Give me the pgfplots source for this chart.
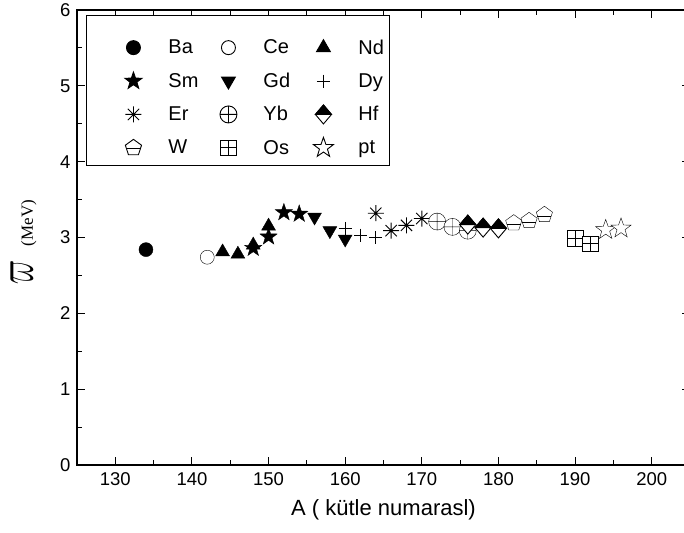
\documentclass[border=0pt]{standalone}
\usepackage{pgfplots}
\pgfplotsset{compat=1.18}
\usepackage{fontspec}
\setmainfont{Liberation Sans}
\newfontfamily\seriffont{Liberation Serif}
\usetikzlibrary{plotmarks}

% filled or open five-pointed star (fill colour from mark options)
\pgfdeclareplotmark{starfive}{%
  \pgfpathmoveto{\pgfpointpolar{90}{\pgfplotmarksize}}%
  \pgfpathlineto{\pgfpointpolar{126}{0.4\pgfplotmarksize}}%
  \pgfpathlineto{\pgfpointpolar{162}{\pgfplotmarksize}}%
  \pgfpathlineto{\pgfpointpolar{198}{0.4\pgfplotmarksize}}%
  \pgfpathlineto{\pgfpointpolar{234}{\pgfplotmarksize}}%
  \pgfpathlineto{\pgfpointpolar{270}{0.4\pgfplotmarksize}}%
  \pgfpathlineto{\pgfpointpolar{306}{\pgfplotmarksize}}%
  \pgfpathlineto{\pgfpointpolar{342}{0.4\pgfplotmarksize}}%
  \pgfpathlineto{\pgfpointpolar{18}{\pgfplotmarksize}}%
  \pgfpathlineto{\pgfpointpolar{54}{0.4\pgfplotmarksize}}%
  \pgfpathclose
  \pgfusepathqfillstroke
}
% pentagon with a bar across its lower part
\pgfdeclareplotmark{pentbar}{%
  \pgfpathmoveto{\pgfpointpolar{90}{\pgfplotmarksize}}%
  \pgfpathlineto{\pgfpointpolar{162}{\pgfplotmarksize}}%
  \pgfpathlineto{\pgfpointpolar{234}{\pgfplotmarksize}}%
  \pgfpathlineto{\pgfpointpolar{306}{\pgfplotmarksize}}%
  \pgfpathlineto{\pgfpointpolar{18}{\pgfplotmarksize}}%
  \pgfpathclose
  \pgfusepathqfillstroke
  \pgfpathmoveto{\pgfpoint{-0.82\pgfplotmarksize}{-0.12\pgfplotmarksize}}%
  \pgfpathlineto{\pgfpoint{0.82\pgfplotmarksize}{-0.12\pgfplotmarksize}}%
  \pgfusepathqstroke
}
% square divided into four
\pgfdeclareplotmark{sqplus}{%
  \pgfpathrectangle{\pgfpoint{-\pgfplotmarksize}{-\pgfplotmarksize}}{\pgfpoint{2\pgfplotmarksize}{2\pgfplotmarksize}}%
  \pgfusepathqfillstroke
  \pgfpathmoveto{\pgfpoint{-\pgfplotmarksize}{0pt}}\pgfpathlineto{\pgfpoint{\pgfplotmarksize}{0pt}}%
  \pgfpathmoveto{\pgfpoint{0pt}{-\pgfplotmarksize}}\pgfpathlineto{\pgfpoint{0pt}{\pgfplotmarksize}}%
  \pgfusepathqstroke
}
% eight-spoked asterisk
\pgfdeclareplotmark{asteight}{%
  \pgfpathmoveto{\pgfpointpolar{0}{\pgfplotmarksize}}\pgfpathlineto{\pgfpointpolar{180}{\pgfplotmarksize}}%
  \pgfpathmoveto{\pgfpointpolar{45}{\pgfplotmarksize}}\pgfpathlineto{\pgfpointpolar{225}{\pgfplotmarksize}}%
  \pgfpathmoveto{\pgfpointpolar{90}{\pgfplotmarksize}}\pgfpathlineto{\pgfpointpolar{270}{\pgfplotmarksize}}%
  \pgfpathmoveto{\pgfpointpolar{135}{\pgfplotmarksize}}\pgfpathlineto{\pgfpointpolar{315}{\pgfplotmarksize}}%
  \pgfusepathqstroke
}
% diamond, upper half black
\pgfdeclareplotmark{halfdia}{%
  \pgfsetfillcolor{white}%
  \pgfpathmoveto{\pgfpoint{0pt}{\pgfplotmarksize}}%
  \pgfpathlineto{\pgfpoint{0.85\pgfplotmarksize}{0pt}}%
  \pgfpathlineto{\pgfpoint{0pt}{-\pgfplotmarksize}}%
  \pgfpathlineto{\pgfpoint{-0.85\pgfplotmarksize}{0pt}}%
  \pgfpathclose
  \pgfusepathqfillstroke
  \pgfsetfillcolor{black}%
  \pgfpathmoveto{\pgfpoint{0pt}{\pgfplotmarksize}}%
  \pgfpathlineto{\pgfpoint{0.85\pgfplotmarksize}{0pt}}%
  \pgfpathlineto{\pgfpoint{-0.85\pgfplotmarksize}{0pt}}%
  \pgfpathclose
  \pgfusepathqfillstroke
}

\begin{document}
\begin{tikzpicture}
\begin{axis}[
  at={(0,0)}, anchor=south west,
  scale only axis, width=613pt, height=455pt,
  xmin=125, xmax=205, ymin=0, ymax=6,
  xtick={130,140,...,200}, ytick={0,1,...,6},
  minor x tick num=1, minor y tick num=1,
  tick align=inside,
  major tick length=8pt, minor tick length=5pt,
  axis line style={line width=1.2pt},
  every tick/.style={black, line width=1pt},
  /pgf/number format/assume math mode=true,
  ticklabel style={font=\fontsize{18.5}{18.5}\selectfont},
  xticklabel style={yshift=-4pt},
  yticklabel style={xshift=-3pt},
  xlabel={A ( kütle numarasl)},
  xlabel style={font=\fontsize{22}{22}\selectfont, at={(axis description cs:0.5,0)}, anchor=base, yshift=-50pt},
  ylabel={\scalebox{2.8}[5.2]{$\varpi$}\hspace{14pt}{\seriffont\fontsize{17}{17}\selectfont (MeV)}},
  ylabel style={at={(axis description cs:-0.0718,0.49)}, anchor=base, inner sep=0pt},
  every axis plot/.append style={only marks, black, mark options={solid, line width=0.9pt}},
  legend columns=3,
  legend cell align=left,
  legend image code/.code={\path[draw=none,fill=none] (-44pt,-15pt) rectangle (35pt,28.7pt); \draw[#1] plot coordinates {(0pt,0pt)};},
  legend style={at={(axis description cs:0,1)}, anchor=north west, xshift=9pt, yshift=-5.5pt,
    draw=black, line width=0.9pt, inner xsep=3pt, inner ysep=3pt,
    font=\fontsize{20}{20}\selectfont, row sep=-10.3pt,
    nodes={inner xsep=0pt, inner ysep=0pt, text width=28pt, align=left},
    /tikz/every even column/.append style={column sep=-12pt}},
]
% Ba
\addplot[mark=*, mark size=7pt, mark options={fill=black}] coordinates {(134,2.84)};
\addlegendentry{Ba}
% Ce
\addplot[mark=*, mark size=7pt, mark options={fill=white}] coordinates {(142,2.74)};
\addlegendentry{Ce}
% Nd
\addplot[mark=triangle*, mark size=8pt, mark options={fill=black}] coordinates {(144,2.81) (146,2.78) (148,2.90) (150,3.15)};
\addlegendentry{Nd}
% Sm
\addplot[mark=starfive, mark size=9pt, mark options={fill=black}] coordinates {(148,2.86) (150,3.01) (152,3.33) (154,3.31)};
\addlegendentry{Sm}
% Gd
\addplot[mark=triangle*, mark size=8pt, mark options={fill=black, rotate=180}] coordinates {(156,3.27) (158,3.09) (160,2.98)};
\addlegendentry{Gd}
% Dy
\addplot[mark=+, mark size=6.5pt] coordinates {(160,3.12) (162,3.03) (164,3.00)};
\addlegendentry{Dy}
% Er
\addplot[mark=asteight, mark size=8pt] coordinates {(164,3.32) (166,3.09) (168,3.16) (170,3.25)};
\addlegendentry{Er}
% Yb
\addplot[mark=oplus*, mark size=8.5pt, mark options={fill=white}] coordinates {(172,3.21) (174,3.14) (176,3.09)};
\addlegendentry{Yb}
% Hf
\addplot[mark=halfdia, mark size=9.5pt] coordinates {(176,3.17) (178,3.13) (180,3.12)};
\addlegendentry{Hf}
% W
\addplot[mark=pentbar, mark size=8.5pt, mark options={fill=white}] coordinates {(182,3.19) (184,3.22) (186,3.30)};
\addlegendentry{W}
% Os
\addplot[mark=sqplus, mark size=7.8pt, mark options={fill=white}] coordinates {(190,2.99) (192,2.92)};
\addlegendentry{Os}
% pt
\addplot[mark=starfive, mark size=10.5pt, mark options={fill=white}] coordinates {(194,3.10) (196,3.12)};
\addlegendentry{pt}
\end{axis}
\pgfresetboundingbox
\useasboundingbox (0,0) ++(-77pt,-67pt) rectangle ++(684pt,532pt);
\end{tikzpicture}
\end{document}
